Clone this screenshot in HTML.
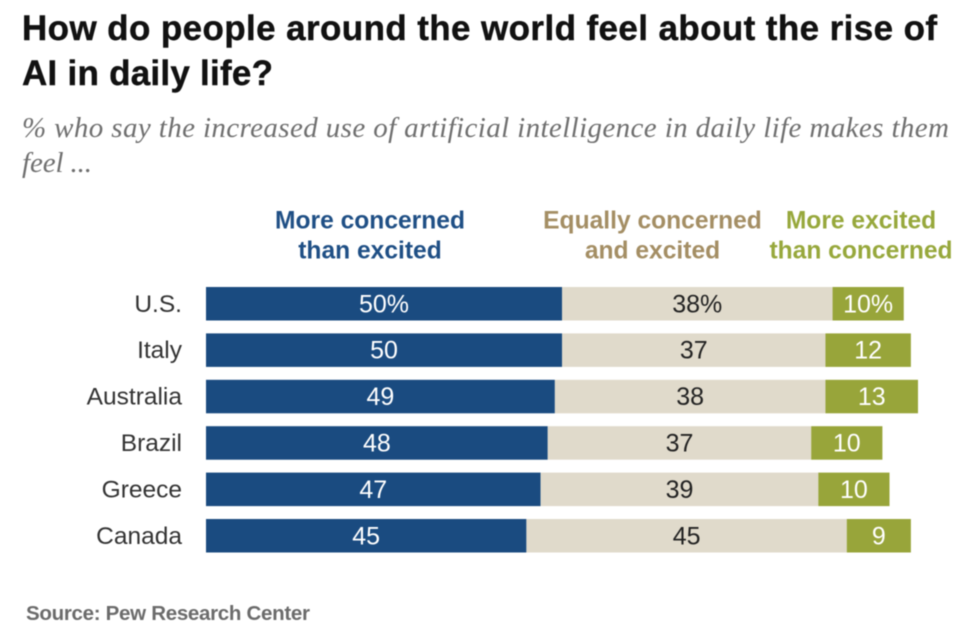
<!DOCTYPE html>
<html>
<head>
<meta charset="utf-8">
<title>How do people around the world feel about the rise of AI in daily life?</title>
<style>
html,body{margin:0;padding:0;background:#fff;}
body{width:972px;height:638px;overflow:hidden;position:relative;font-family:"Liberation Sans",sans-serif;}
svg{position:absolute;left:0;top:0;filter:blur(0.5px);}
</style>
</head>
<body>
<svg id="chart" width="972" height="638" viewBox="0 0 972 638">
  <text x="22" y="40" font-size="35" font-weight="700" fill="#111" stroke="#111" stroke-width="0.4" textLength="915" lengthAdjust="spacing">How do people around the world feel about the rise of</text>
  <text x="22" y="85" font-size="35" font-weight="700" fill="#111" stroke="#111" stroke-width="0.4" textLength="251" lengthAdjust="spacing">AI in daily life?</text>
  <text x="22" y="137" font-size="29" font-style="italic" font-family="Liberation Serif" fill="#6f6f6f" textLength="927" lengthAdjust="spacing">% who say the increased use of artificial intelligence in daily life makes them</text>
  <text x="22" y="172" font-size="29" font-style="italic" font-family="Liberation Serif" fill="#6f6f6f" textLength="70" lengthAdjust="spacing">feel ...</text>

  <g font-size="24.6" font-weight="700" text-anchor="middle">
    <text x="370" y="228.5" fill="#1f4f85">More concerned</text>
    <text x="370" y="258.5" fill="#1f4f85">than excited</text>
    <text x="652.5" y="228.5" fill="#a48e64">Equally concerned</text>
    <text x="652.5" y="258.5" fill="#a48e64">and excited</text>
    <text x="861" y="228.5" fill="#97a83c">More excited</text>
    <text x="861" y="258.5" fill="#97a83c">than concerned</text>
  </g>

  <g id="bars"></g>

  <text x="26" y="620" font-size="20.5" font-weight="700" fill="#6b6b6b" textLength="284" lengthAdjust="spacing">Source: Pew Research Center</text>
</svg>
<script>
var categories = ["U.S.", "Italy", "Australia", "Brazil", "Greece", "Canada"];
var moreConcerned = [50, 50, 49, 48, 47, 45];
var equallyConcerned = [38, 37, 38, 37, 39, 45];
var moreExcited = [10, 12, 13, 10, 10, 9];
var percentRow = ["U.S."];

var svgNS = "http://www.w3.org/2000/svg";
var barsGroup = document.getElementById("bars");
var x0 = 206;
var pxPerUnit = 7.12;
var rowTop = 287;
var rowStep = 46.4;
var barHeight = 33.5;

function xScale(v) { return x0 + v * pxPerUnit; }
function yScale(i) { return rowTop + i * rowStep; }

function addRect(x, y, w, h, fill) {
  var r = document.createElementNS(svgNS, "rect");
  r.setAttribute("x", x);
  r.setAttribute("y", y);
  r.setAttribute("width", w);
  r.setAttribute("height", h);
  r.setAttribute("fill", fill);
  barsGroup.appendChild(r);
  return r;
}
function addText(x, y, str, anchor, fill, size) {
  var t = document.createElementNS(svgNS, "text");
  t.setAttribute("x", x);
  t.setAttribute("y", y);
  t.setAttribute("font-size", size);
  t.setAttribute("text-anchor", anchor);
  t.setAttribute("fill", fill);
  t.textContent = str;
  barsGroup.appendChild(t);
  return t;
}

categories.forEach(function (cat, i) {
  var y = yScale(i);
  var a = moreConcerned[i], b = equallyConcerned[i], c = moreExcited[i];
  var suffix = percentRow.indexOf(cat) >= 0 ? "%" : "";
  var baseline = y + barHeight / 2 + 8.5;

  var label = addText(182, baseline - 0.5, cat, "end", "#333", 24.5);
  
  

  var r1 = addRect(xScale(0), y, xScale(a) - xScale(0), barHeight, "#1a4b80");
  
  

  var r2 = addRect(xScale(a), y, xScale(a + b) - xScale(a), barHeight, "#e0dacb");
  
  

  var r3 = addRect(xScale(a + b), y, xScale(a + b + c) - xScale(a + b), barHeight, "#98a53a");
  
  

  var t1 = addText((xScale(0) + xScale(a)) / 2, baseline, a + suffix, "middle", "#fff", 25);
  
  

  var t2 = addText((xScale(a) + xScale(a + b)) / 2, baseline, b + suffix, "middle", "#222", 25);
  
  

  var t3 = addText((xScale(a + b) + xScale(a + b + c)) / 2, baseline, c + suffix, "middle", "#fff", 25);
  
  
});
</script>
</body>
</html>
